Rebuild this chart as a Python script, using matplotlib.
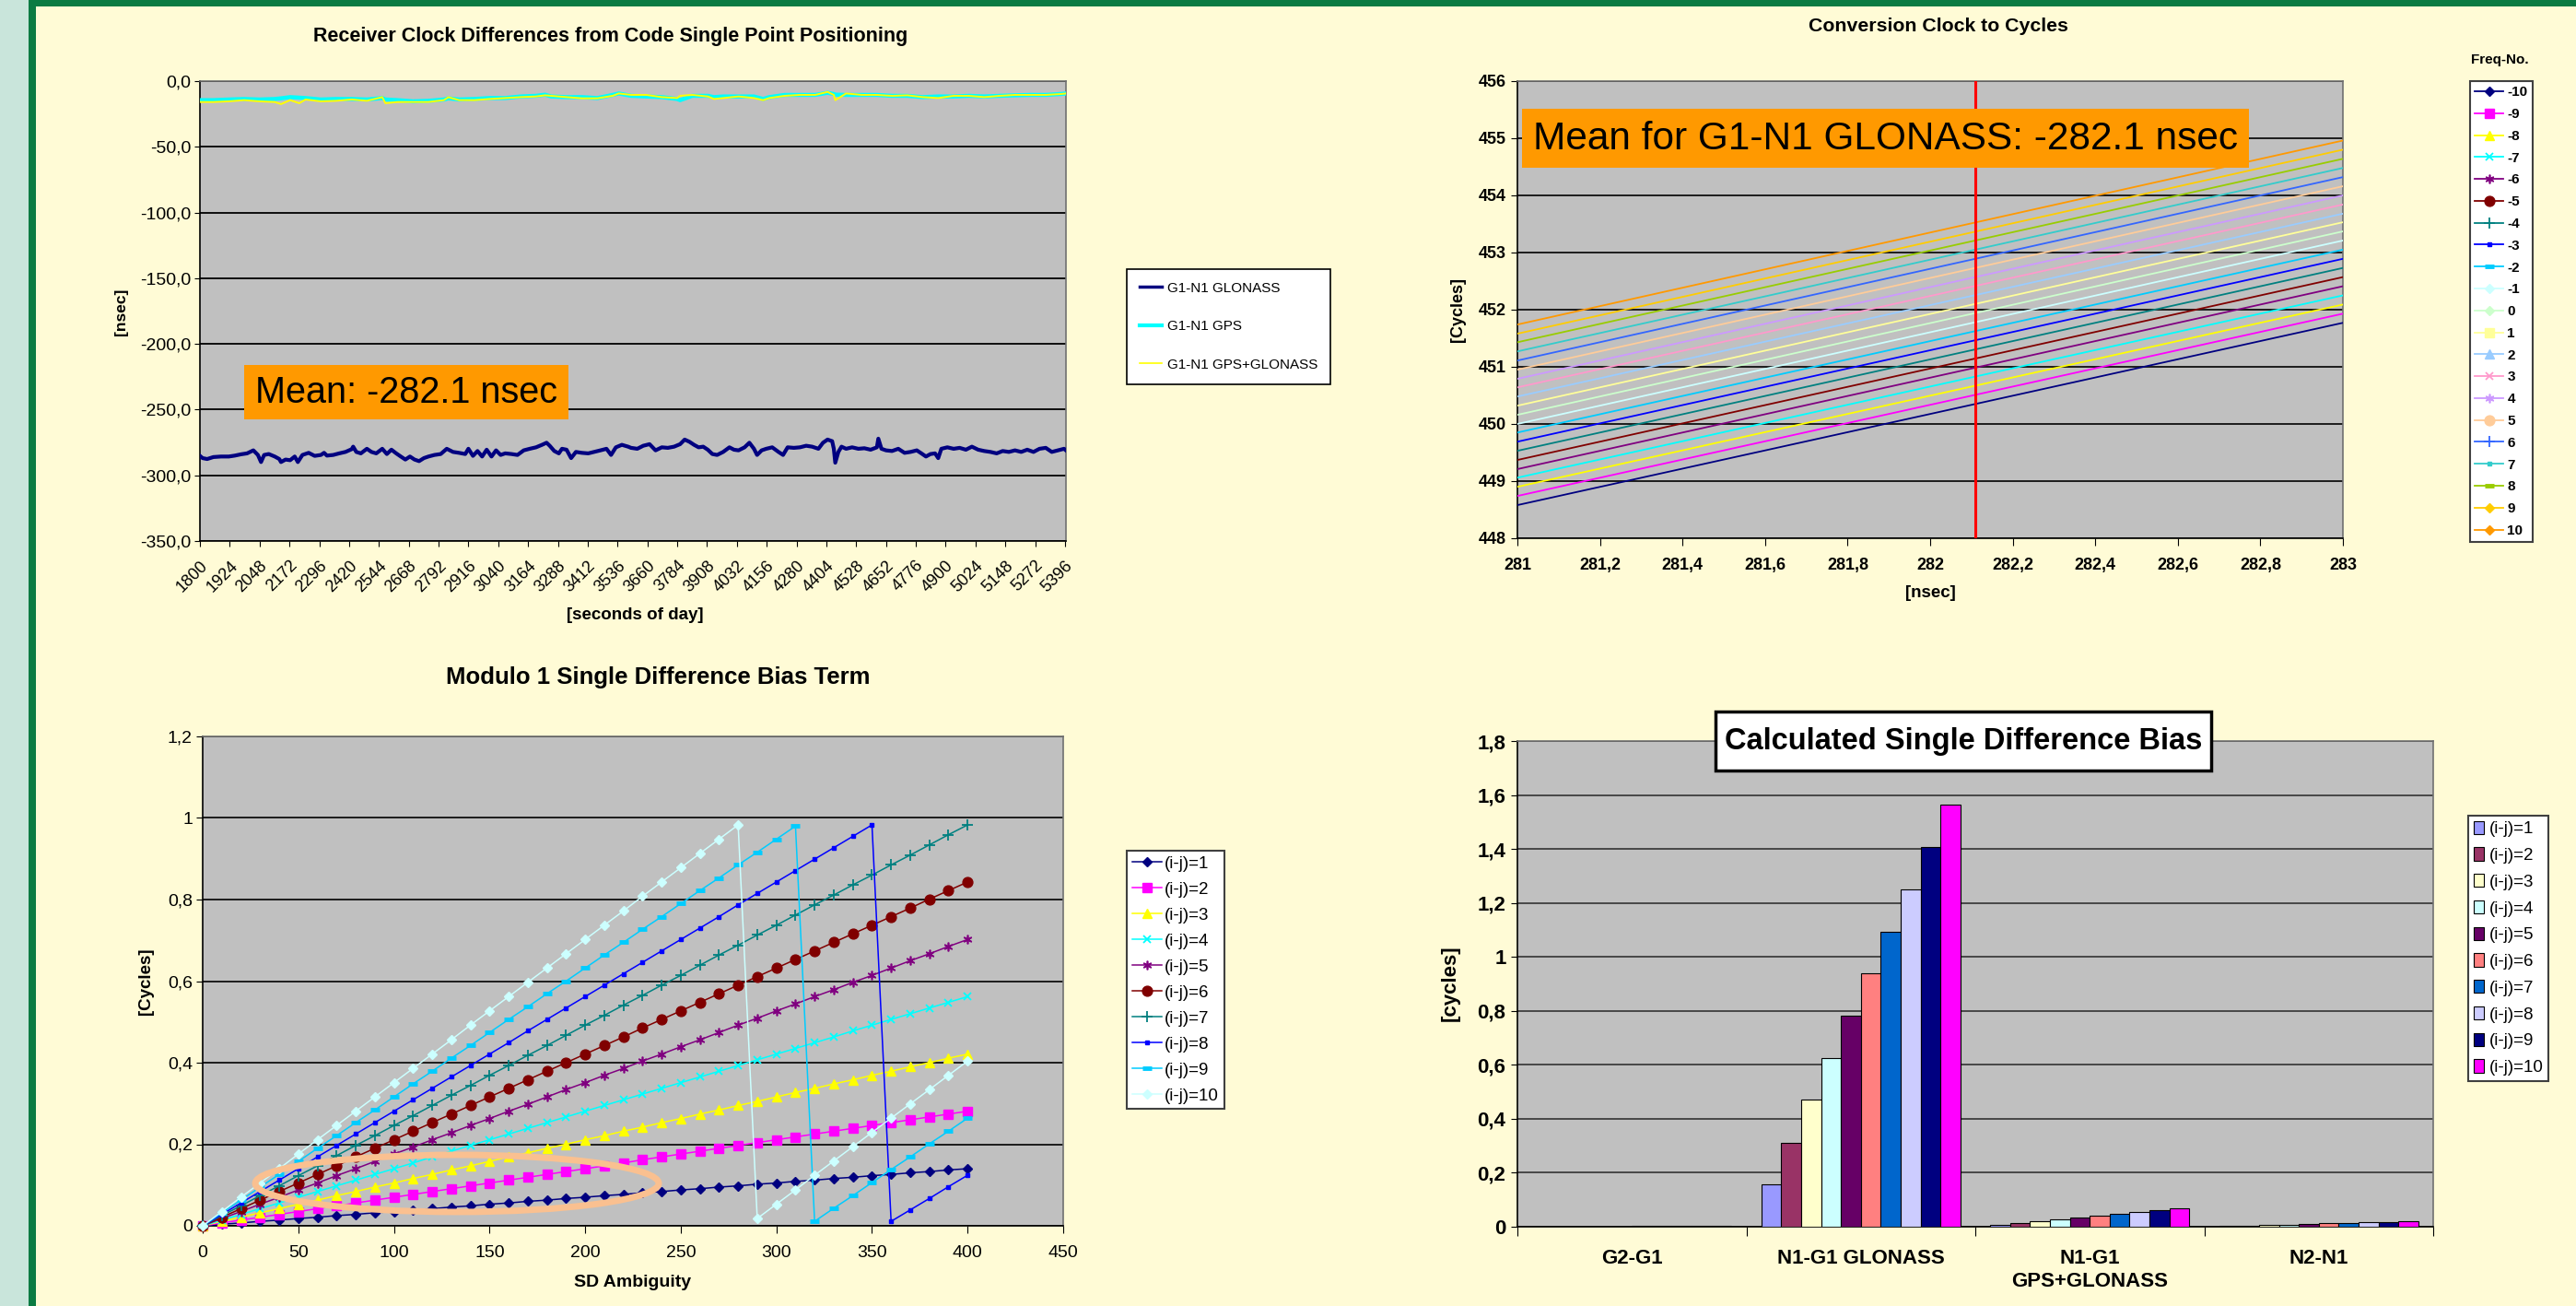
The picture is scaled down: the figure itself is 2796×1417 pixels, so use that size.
import matplotlib
matplotlib.use('Agg')
import matplotlib.pyplot as plt
from matplotlib.lines import Line2D
from matplotlib.patches import Ellipse, Rectangle, Patch

plt.rcParams['font.family'] = ['Liberation Sans', 'DejaVu Sans']

W, H = 2796, 1417

# ======================= DATA =======================
# --- Panel 1: receiver clock differences [nsec] vs seconds of day ---
glo_t = [1800, 1811, 1830, 1856, 1888, 1920, 1945, 1971, 1996, 2022, 2041, 2054, 2067, 2086, 2111, 2130, 2137, 2156, 2175, 2194,
         2207, 2226, 2252, 2277, 2303, 2316, 2328, 2354, 2379, 2405, 2431, 2437, 2450, 2469, 2494, 2513, 2533, 2558, 2577, 2596,
         2616, 2635, 2654, 2673, 2692, 2711, 2731, 2750, 2775, 2801, 2826, 2852, 2877, 2903, 2916, 2935, 2954, 2973, 2992, 3012,
         3031, 3050, 3069, 3095, 3120, 3146, 3171, 3197, 3222, 3241, 3254, 3273, 3292, 3305, 3324, 3343, 3363, 3388, 3414, 3439,
         3465, 3490, 3509, 3529, 3554, 3580,
         3592, 3618, 3643, 3669, 3694, 3720, 3745, 3771, 3796, 3815, 3835, 3854, 3873, 3892, 3911, 3930, 3950, 3975, 4001, 4020,
         4039, 4064, 4084, 4103, 4116, 4135, 4154, 4179, 4205, 4224, 4243, 4269, 4294, 4320, 4345, 4371, 4390, 4409, 4428, 4435,
         4441, 4454, 4467, 4486, 4511, 4537, 4562, 4588, 4614, 4620, 4633, 4652, 4677, 4703, 4729, 4754, 4780, 4799, 4818, 4837,
         4856, 4869, 4882, 4907, 4933, 4958, 4984, 5009, 5035, 5060, 5086, 5112, 5137, 5163, 5188, 5214, 5239, 5265, 5290, 5316,
         5341, 5367, 5392, 5400]
glo_ns = [-285.2, -286.9, -287.6, -286.1, -285.7, -285.7, -285.0, -284.0, -283.3, -281.0, -284.5, -289.9, -284.5, -283.8, -285.7, -287.6, -289.9, -288.0, -288.5, -285.7,
          -289.9, -284.5, -282.9, -285.2, -284.5, -282.9, -285.0, -284.5, -283.3, -282.2, -280.1, -278.2, -282.2, -283.3, -279.8, -282.2, -283.3, -279.8, -283.8, -280.5,
          -283.3, -285.7, -288.0, -285.7, -288.0, -289.2, -286.9, -285.7, -284.5, -283.8, -279.8, -282.2, -282.9, -283.8, -279.8, -285.2, -281.5, -285.7, -280.5, -285.7,
          -281.0, -284.5, -283.3, -283.8, -284.5, -281.0, -279.8, -278.7, -276.8, -275.2, -277.5, -281.5, -283.3, -279.8, -280.5, -286.9, -282.2, -282.9, -283.3, -282.2,
          -281.0, -279.8, -284.5, -278.7, -276.8, -278.2,
          -279.1, -279.8, -277.5, -276.3, -281.0, -278.7, -279.1, -278.2, -276.3, -272.8, -274.5, -276.8, -278.7, -278.2, -280.5, -283.8, -284.5, -282.2, -278.7, -280.5,
          -281.0, -278.7, -275.2, -279.8, -284.5, -281.0, -279.8, -278.7, -282.2, -284.5, -278.7, -279.1, -278.7, -277.5, -278.2, -279.8, -275.2, -272.8, -274.0, -279.8,
          -290.4, -282.2, -278.2, -279.8, -278.7, -279.8, -279.4, -280.5, -278.7, -272.1, -279.8, -281.0, -281.5, -279.8, -282.9, -282.2, -281.0, -283.3, -285.7, -283.8,
          -283.3, -286.9, -279.8, -278.7, -279.8, -279.1, -280.5, -278.2, -280.5, -281.5, -282.2, -283.3, -281.5, -282.2, -281.0, -282.2, -280.5, -282.2, -279.8, -279.1,
          -282.2, -281.0, -279.8, -281.0]
gps_t = [1800, 1856, 1920, 1984, 2047, 2111, 2137, 2175, 2213, 2239, 2303, 2366, 2431, 2494, 2558, 2571, 2622, 2686, 2750, 2814,
         2833, 2877, 2941, 3005, 3069, 3133, 3197, 3235, 3260, 3324, 3388, 3452, 3516, 3541, 3592, 3656, 3720, 3784, 3796, 3847,
         3911, 3937, 3975, 4039, 4103, 4141, 4167, 4231, 4294, 4358, 4409, 4435, 4441, 4486, 4550, 4614, 4677, 4741, 4805, 4869,
         4933, 4997, 5060, 5124, 5188, 5252, 5316, 5380, 5400]
gps_ns = [-14.5, -14.5, -14.0, -13.6, -14.0, -13.6, -13.1, -12.2, -12.6, -12.9, -14.0, -13.6, -13.6, -14.0, -12.9, -14.0, -14.5, -15.4, -15.0, -14.0,
          -13.1, -14.0, -13.6, -12.9, -12.9, -11.7, -11.2, -10.3, -11.7, -12.2, -12.2, -12.9, -10.5, -9.4, -11.2, -11.7, -12.2, -13.6, -14.5, -11.2,
          -11.2, -12.2, -11.7, -11.7, -11.7, -13.6, -12.2, -10.5, -10.5, -10.5, -8.9, -9.8, -10.3, -10.5, -10.5, -10.5, -11.2, -11.2, -12.2, -11.7,
          -11.7, -11.2, -11.7, -11.2, -10.8, -10.5, -10.5, -9.8, -9.4]
mix_ns = [-15.9, -15.9, -15.4, -14.5, -15.4, -15.9, -17.5, -14.5, -16.8, -14.0, -15.4, -15.0, -14.0, -15.0, -12.2, -16.8, -15.9, -15.9, -15.9, -14.5,
          -12.2, -14.5, -14.5, -13.6, -12.9, -12.2, -11.7, -10.8, -11.2, -12.2, -13.1, -13.1, -11.2, -9.4, -10.5, -10.5, -12.2, -12.9, -11.2, -10.5,
          -11.7, -13.6, -12.9, -11.7, -12.9, -14.5, -12.9, -11.2, -10.5, -10.5, -8.2, -10.5, -14.5, -9.4, -10.5, -10.5, -11.2, -10.8, -12.2, -12.9,
          -11.2, -11.2, -12.2, -11.2, -10.5, -10.5, -10.5, -9.8, -9.4]
p1_series = ['G1-N1 GLONASS', 'G1-N1 GPS', 'G1-N1 GPS+GLONASS']
p1_xticks = [1800, 1924, 2048, 2172, 2296, 2420, 2544, 2668, 2792, 2916, 3040, 3164, 3288, 3412, 3536,
             3660, 3784, 3908, 4032, 4156, 4280, 4404, 4528, 4652, 4776, 4900, 5024, 5148, 5272, 5396]
p1_yticks = [0, -50, -100, -150, -200, -250, -300, -350]
p1_ylabels = ['0,0', '-50,0', '-100,0', '-150,0', '-200,0', '-250,0', '-300,0', '-350,0']

# --- Panel 2: conversion clock to cycles ---
freq_no = [-10, -9, -8, -7, -6, -5, -4, -3, -2, -1, 0, 1, 2, 3, 4, 5, 6, 7, 8, 9, 10]
clock_ns = [281, 283]
cycles_at_281 = [448.58, 448.74, 448.90, 449.06, 449.21, 449.37, 449.53, 449.69, 449.85, 450.00, 450.16,
                 450.32, 450.48, 450.64, 450.79, 450.95, 451.11, 451.27, 451.43, 451.58, 451.74]
cycles_at_283 = [451.77, 451.93, 452.09, 452.25, 452.41, 452.57, 452.73, 452.89, 453.05, 453.21, 453.37,
                 453.53, 453.68, 453.84, 454.00, 454.16, 454.32, 454.48, 454.64, 454.80, 454.96]
mean_clock = 282.11
p2_xticks = [281, 281.2, 281.4, 281.6, 281.8, 282, 282.2, 282.4, 282.6, 282.8, 283]
p2_xlabels = ['281', '281,2', '281,4', '281,6', '281,8', '282', '282,2', '282,4', '282,6', '282,8', '283']
p2_yticks = [448, 449, 450, 451, 452, 453, 454, 455, 456]

# --- Panel 3: modulo 1 single difference bias term ---
sd_ambiguity = [0, 10, 20, 30, 40, 50, 60, 70, 80, 90, 100, 110, 120, 130, 140, 150, 160, 170, 180, 190, 200,
                210, 220, 230, 240, 250, 260, 270, 280, 290, 300, 310, 320, 330, 340, 350, 360, 370, 380, 390, 400]
bias_ij1 = [0, .004, .007, .011, .014, .018, .021, .025, .028, .032, .035, .039, .042, .046, .049, .053, .056, .060, .063, .067, .070,
            .074, .077, .081, .084, .088, .091, .095, .098, .102, .105, .109, .112, .116, .119, .123, .126, .130, .133, .137, .140]
bias_ij2 = [0, .007, .014, .021, .028, .035, .042, .049, .056, .063, .070, .077, .084, .091, .098, .105, .112, .119, .126, .133, .140,
            .147, .154, .162, .169, .176, .183, .190, .197, .204, .211, .218, .225, .232, .239, .246, .253, .260, .267, .274, .281]
bias_ij3 = [0, .011, .021, .032, .042, .053, .063, .074, .084, .095, .105, .116, .126, .137, .147, .158, .169, .179, .190, .200, .211,
            .221, .232, .242, .253, .263, .274, .284, .295, .305, .316, .327, .337, .348, .358, .369, .379, .390, .400, .411, .421]
bias_ij4 = [0, .014, .028, .042, .056, .070, .084, .098, .112, .126, .140, .154, .169, .183, .197, .211, .225, .239, .253, .267, .281,
            .295, .309, .323, .337, .351, .365, .379, .393, .407, .421, .435, .449, .463, .478, .492, .506, .520, .534, .548, .562]
bias_ij5 = [0, .018, .035, .053, .070, .088, .105, .123, .140, .158, .176, .193, .211, .228, .246, .263, .281, .298, .316, .334, .351,
            .369, .386, .404, .421, .439, .456, .474, .492, .509, .527, .544, .562, .579, .597, .614, .632, .650, .667, .685, .702]
bias_ij6 = [0, .021, .042, .063, .084, .105, .126, .147, .169, .190, .211, .232, .253, .274, .295, .316, .337, .358, .379, .400, .421,
            .442, .463, .485, .506, .527, .548, .569, .590, .611, .632, .653, .674, .695, .716, .737, .758, .779, .801, .822, .843]
bias_ij7 = [0, .025, .049, .074, .098, .123, .147, .172, .197, .221, .246, .270, .295, .320, .344, .369, .393, .418, .442, .467, .492,
            .516, .541, .565, .590, .614, .639, .664, .688, .713, .737, .762, .787, .811, .836, .860, .885, .909, .934, .959, .983]
bias_ij8 = [0, .028, .056, .084, .112, .140, .169, .197, .225, .253, .281, .309, .337, .365, .393, .421, .449, .478, .506, .534, .562,
            .590, .618, .646, .674, .702, .730, .758, .787, .815, .843, .871, .899, .927, .955, .983, .011, .039, .067, .096, .124]
bias_ij9 = [0, .032, .063, .095, .126, .158, .190, .221, .253, .284, .316, .348, .379, .411, .442, .474, .506, .537, .569, .600, .632,
            .664, .695, .727, .758, .790, .822, .853, .885, .916, .948, .980, .011, .043, .074, .106, .138, .169, .201, .232, .264]
bias_ij10 = [0, .035, .070, .105, .140, .176, .211, .246, .281, .316, .351, .386, .421, .456, .492, .527, .562, .597, .632, .667, .702,
             .737, .772, .808, .843, .878, .913, .948, .983, .018, .053, .088, .124, .159, .194, .229, .264, .299, .334, .369, .404]
p3_labels = ['(i-j)=1', '(i-j)=2', '(i-j)=3', '(i-j)=4', '(i-j)=5', '(i-j)=6', '(i-j)=7', '(i-j)=8', '(i-j)=9', '(i-j)=10']
p3_xticks = [0, 50, 100, 150, 200, 250, 300, 350, 400, 450]
p3_yticks = [0, 0.2, 0.4, 0.6, 0.8, 1.0, 1.2]
p3_ylabels = ['0', '0,2', '0,4', '0,6', '0,8', '1', '1,2']

# --- Panel 4: calculated single difference bias [cycles] ---
bias_groups = ['G2-G1', 'N1-G1 GLONASS', 'N1-G1\nGPS+GLONASS', 'N2-N1']
sdb_g2g1 = [0.0005, 0.0008, 0.001, 0.0012, 0.0015, 0.0018, 0.002, 0.0022, 0.0025, 0.003]
sdb_n1g1_glo = [0.156, 0.312, 0.470, 0.626, 0.782, 0.938, 1.094, 1.250, 1.406, 1.564]
sdb_n1g1_mix = [0.007, 0.014, 0.020, 0.027, 0.034, 0.041, 0.048, 0.054, 0.061, 0.068]
sdb_n2n1 = [0.002, 0.004, 0.006, 0.008, 0.010, 0.012, 0.014, 0.016, 0.018, 0.020]
p4_yticks = [0, 0.2, 0.4, 0.6, 0.8, 1.0, 1.2, 1.4, 1.6, 1.8]
p4_ylabels = ['0', '0,2', '0,4', '0,6', '0,8', '1', '1,2', '1,4', '1,6', '1,8']

# ======================= STYLE =======================
BG = '#FFFBD6'
PLOT_BG = '#C0C0C0'
line_colors = ['#000080', '#FF00FF', '#FFFF00', '#00FFFF', '#800080', '#800000', '#008080', '#0000FF', '#00CCFF', '#CCFFFF',
               '#CCFFCC', '#FFFF99', '#99CCFF', '#FF99CC', '#CC99FF', '#FFCC99', '#3366FF', '#33CCCC', '#99CC00', '#FFCC00', '#FF9900']
ASTER = (6, 2, 0)
marker_cycle = [('D', 5, 1), ('s', 6.5, 1), ('^', 7, 1), ('x', 6, 1.3), (ASTER, 7, 1.2),
                ('o', 7.8, 1), ('+', 8, 1.3), ('s', 2.5, 1), ('_', 7, 3.5), ('D', 5, 1)]
bar_colors = ['#9999FF', '#993366', '#FFFFCC', '#CCFFFF', '#660066', '#FF8080', '#0066CC', '#CCCCFF', '#000080', '#FF00FF']


def fx(px):
    return px / W


def fy(py):
    return 1 - py / H


def axes_at(x0, y0, x1, y1):
    return fig.add_axes([fx(x0), fy(y1), (x1 - x0) / W, (y1 - y0) / H])


def style_axes(ax):
    ax.set_facecolor(PLOT_BG)
    for s in ['top', 'right']:
        ax.spines[s].set_color('#707070')
        ax.spines[s].set_linewidth(1.2)
    for s in ['left', 'bottom']:
        ax.spines[s].set_color('black')
        ax.spines[s].set_linewidth(1.2)
    ax.set_axisbelow(True)


def ftext(x, y, s, **kw):
    kw.setdefault('ha', 'center')
    kw.setdefault('va', 'center')
    fig.text(fx(x), fy(y), s, **kw)


def frect(x0, y0, x1, y1, **kw):
    r = Rectangle((fx(x0), fy(y1)), (x1 - x0) / W, (y1 - y0) / H, transform=fig.transFigure, **kw)
    fig.add_artist(r)


fig = plt.figure(figsize=(W / 100, H / 100), dpi=100)
fig.patch.set_facecolor(BG)
frect(0, 0, 31, H, fc='#C9E5DB', ec='none', zorder=0.2)
frect(31, 0, 39, H, fc='#0B7B43', ec='none', zorder=0.3)
frect(31, 0, W, 7, fc='#0B7B43', ec='none', zorder=0.3)

# ---------------- Panel 1 ----------------
ax1 = axes_at(217, 88, 1157, 587)
style_axes(ax1)
ax1.plot(glo_t, glo_ns, color='#000080', lw=3.0, zorder=3)
ax1.plot(gps_t, gps_ns, color='#00FFFF', lw=3.2, zorder=3)
ax1.plot(gps_t, mix_ns, color='#FFFF00', lw=1.4, zorder=4)
ax1.set_xlim(1800, 5400)
ax1.set_ylim(-350, 0)
ax1.set_yticks(p1_yticks)
ax1.set_yticklabels(p1_ylabels, fontsize=14)
ax1.yaxis.grid(True, color='black', lw=1.3)
ax1.set_xticks(p1_xticks)
ax1.set_xticklabels([str(v) for v in p1_xticks], rotation=45, ha='right', rotation_mode='anchor', fontsize=13)
ax1.tick_params(axis='y', length=4, pad=3)
ax1.tick_params(axis='x', length=4, pad=9)
h1 = [Line2D([], [], color='#000080', lw=2.5), Line2D([], [], color='#00FFFF', lw=3), Line2D([], [], color='#FFFF00', lw=1.2)]
leg1 = ax1.legend(h1, p1_series, loc='upper left', bbox_to_anchor=(fx(1223), fy(292)), bbox_transform=fig.transFigure,
                  fontsize=11, frameon=True, fancybox=False, edgecolor='black', facecolor='white', framealpha=1,
                  borderpad=0.9, labelspacing=1.8, handlelength=1.6, handletextpad=0.4, borderaxespad=0)
leg1.get_frame().set_linewidth(1.2)
ftext(663, 39, 'Receiver Clock Differences from Code Single Point Positioning', fontsize=15.5, fontweight='bold')
ftext(132, 338, '[nsec]', fontsize=12.5, fontweight='bold', rotation=90)
ftext(689, 668, '[seconds of day]', fontsize=13.5, fontweight='bold')
frect(265, 396, 617, 455, fc='#FF9900', ec='none', zorder=5)
ftext(441, 426, 'Mean: -282.1 nsec', fontsize=28.5, zorder=6)

# ---------------- Panel 2 ----------------
ax2 = axes_at(1647, 88, 2543, 584)
style_axes(ax2)
for i, k in enumerate(freq_no):
    ax2.plot(clock_ns, [cycles_at_281[i], cycles_at_283[i]], color=line_colors[i], lw=1.3, zorder=3)
ax2.axvline(mean_clock, color='#FF0000', lw=2.2, zorder=4)
ax2.set_xlim(281, 283)
ax2.set_ylim(448, 456)
ax2.set_xticks(p2_xticks)
ax2.set_xticklabels(p2_xlabels, fontsize=13, fontweight='bold')
ax2.set_yticks(p2_yticks)
ax2.set_yticklabels([str(v) for v in p2_yticks], fontsize=13, fontweight='bold')
ax2.yaxis.grid(True, color='black', lw=1.2)
ax2.tick_params(axis='y', length=5, pad=4)
ax2.tick_params(axis='x', length=6, pad=9)
h2 = []
for i, k in enumerate(freq_no):
    m, ms, mew = marker_cycle[i % 10]
    h2.append(Line2D([], [], color=line_colors[i], lw=1.3, marker=m, markersize=ms, markeredgewidth=mew,
                     markerfacecolor=line_colors[i], markeredgecolor=line_colors[i]))
leg2 = ax2.legend(h2, [str(k) for k in freq_no], loc='upper left', bbox_to_anchor=(fx(2681), fy(88)),
                  bbox_transform=fig.transFigure, prop={'size': 11, 'weight': 'bold'}, frameon=True, fancybox=False,
                  edgecolor='#404040', facecolor='white', framealpha=1, borderpad=0.35, labelspacing=0.64,
                  handlelength=2.0, handletextpad=0.3, borderaxespad=0)
leg2.get_frame().set_linewidth(1.5)
ftext(2713, 65, 'Freq-No.', fontsize=11, fontweight='bold')
ftext(2104, 29, 'Conversion Clock to Cycles', fontsize=15.3, fontweight='bold')
ftext(1583, 336, '[Cycles]', fontsize=13, fontweight='bold', rotation=90)
ftext(2095, 643, '[nsec]', fontsize=13.5, fontweight='bold')
frect(1652, 118, 2441, 182, fc='#FF9900', ec='none', zorder=5)
ftext(2046, 151, 'Mean for G1-N1 GLONASS: -282.1 nsec', fontsize=30.5, zorder=6)

# ---------------- Panel 3 ----------------
ax3 = axes_at(220, 799, 1154, 1330)
style_axes(ax3)
p3_series = [bias_ij1, bias_ij2, bias_ij3, bias_ij4, bias_ij5, bias_ij6, bias_ij7, bias_ij8, bias_ij9, bias_ij10]
for i, ser in enumerate(p3_series):
    m, ms, mew = marker_cycle[i]
    ax3.plot(sd_ambiguity, ser, color=line_colors[i], lw=1.1, marker=m, markersize=ms, markeredgewidth=mew,
             markerfacecolor=line_colors[i], markeredgecolor=line_colors[i], label=p3_labels[i], zorder=3 + i * 0.01,
             clip_on=False)
ax3.set_xlim(0, 450)
ax3.set_ylim(0, 1.2)
ax3.set_xticks(p3_xticks)
ax3.set_xticklabels([str(v) for v in p3_xticks], fontsize=14)
ax3.set_yticks(p3_yticks)
ax3.set_yticklabels(p3_ylabels, fontsize=14)
ax3.yaxis.grid(True, color='black', lw=1.2)
ax3.tick_params(axis='y', length=5, pad=3)
ax3.tick_params(axis='x', length=6, pad=9)
ax3.add_patch(Ellipse((133, 0.104), 211, 0.14, fill=False, ec='#FAC090', lw=5, zorder=6))
leg3 = ax3.legend(loc='upper left', bbox_to_anchor=(fx(1223), fy(923)), bbox_transform=fig.transFigure,
                  fontsize=13.5, frameon=True, fancybox=False, edgecolor='#404040', facecolor='white', framealpha=1,
                  borderpad=0.3, labelspacing=0.58, handlelength=1.7, handletextpad=0.2, borderaxespad=0)
leg3.get_frame().set_linewidth(1.5)
ftext(714, 735, 'Modulo 1 Single Difference Bias Term', fontsize=18.5, fontweight='bold')
ftext(159, 1065, '[Cycles]', fontsize=13.5, fontweight='bold', rotation=90)
ftext(687, 1391, 'SD Ambiguity', fontsize=14, fontweight='bold')

# ---------------- Panel 4 ----------------
ax4 = axes_at(1647, 804, 2641, 1331)
style_axes(ax4)
group_vals = [sdb_g2g1, sdb_n1g1_glo, sdb_n1g1_mix, sdb_n2n1]
bw = 0.087
for k in range(10):
    xs = [g + (k - 4.5) * bw for g in range(len(bias_groups))]
    hs = [gv[k] for gv in group_vals]
    ax4.bar(xs, hs, width=bw, color=bar_colors[k], edgecolor='black', linewidth=0.8, zorder=3, label=p3_labels[k])
ax4.set_xlim(-0.5, 3.5)
ax4.set_ylim(0, 1.8)
ax4.set_yticks(p4_yticks)
ax4.set_yticklabels(p4_ylabels, fontsize=16, fontweight='bold')
ax4.yaxis.grid(True, color='#333333', lw=1.2)
ax4.set_xticks([-0.5, 0.5, 1.5, 2.5, 3.5])
ax4.set_xticklabels([])
ax4.set_xticks(range(len(bias_groups)), minor=True)
ax4.set_xticklabels(bias_groups, minor=True, fontsize=16, fontweight='bold', linespacing=1.3)
ax4.tick_params(axis='x', which='major', length=7)
ax4.tick_params(axis='x', which='minor', length=0, pad=17)
ax4.tick_params(axis='y', length=5, pad=4)
leg4 = ax4.legend(loc='upper left', bbox_to_anchor=(fx(2679), fy(885)), bbox_transform=fig.transFigure,
                  fontsize=13.5, frameon=True, fancybox=False, edgecolor='#404040', facecolor='white', framealpha=1,
                  borderpad=0.3, labelspacing=0.59, handlelength=0.6, handleheight=0.8, handletextpad=0.3,
                  borderaxespad=0)
leg4.get_frame().set_linewidth(1.5)
frect(1862, 772, 2400, 836, fc='white', ec='black', lw=2.5, zorder=5)
ftext(2131, 804, 'Calculated Single Difference Bias', fontsize=23.5, fontweight='bold', zorder=6)
ftext(1574, 1067, '[cycles]', fontsize=16, fontweight='bold', rotation=90)

fig.savefig('out.png', dpi=100, facecolor=BG)
